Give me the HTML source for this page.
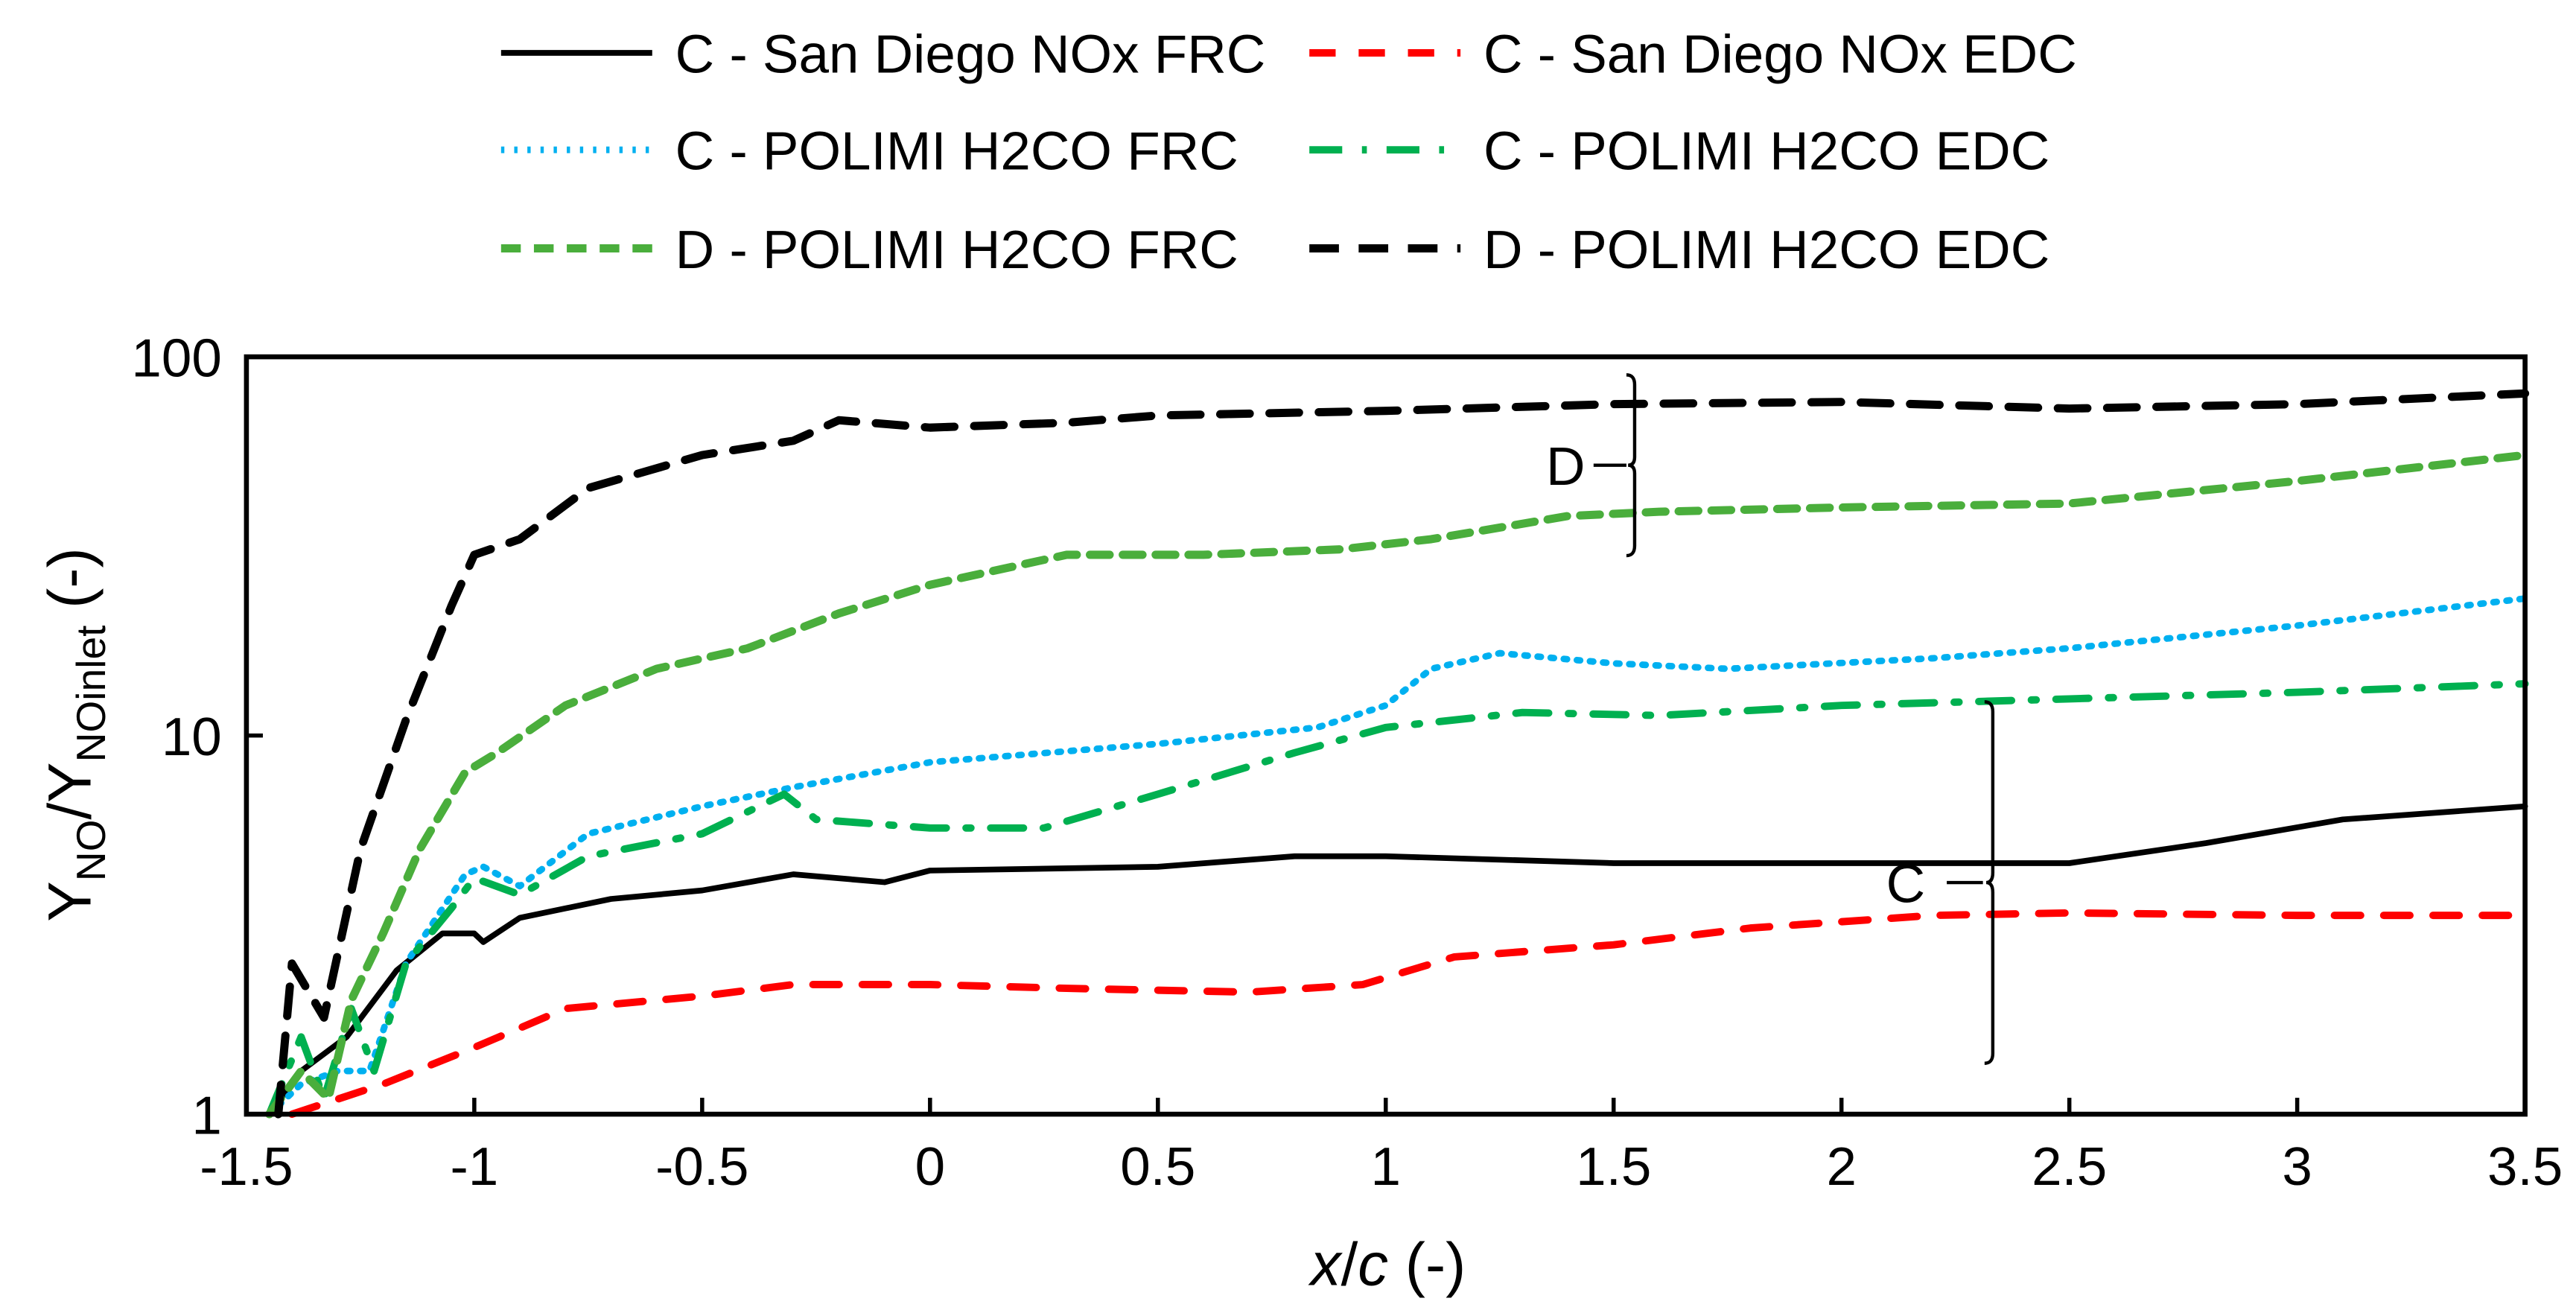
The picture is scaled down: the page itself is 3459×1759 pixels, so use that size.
<!DOCTYPE html>
<html><head><meta charset="utf-8"><style>
html,body{margin:0;padding:0;background:#fff}
svg{display:block}
text{font-family:"Liberation Sans",Arial,sans-serif;fill:#000}
</style></head><body>
<svg id="chart" width="3459" height="1759" viewBox="0 0 1568 797" xmlns="http://www.w3.org/2000/svg">
<g id="legend"></g>
<g id="plot"></g>
<g id="axes"></g>
<g>
<path d="M990,228 q5,0 5,6 v44 q0,5 -4,5 q4,0 4,5 v44 q0,6 -5,6" fill="none" stroke="#000" stroke-width="2"/>
<line x1="970" y1="283" x2="990" y2="283" stroke="#000" stroke-width="2"/>
<text x="953" y="295" font-size="33" text-anchor="middle">D</text>
</g>
<g>
<path d="M1208,427 q5,0 5,6 v98 q0,6 -4,6 q4,0 4,6 v98 q0,6 -5,6" fill="none" stroke="#000" stroke-width="2"/>
<line x1="1185" y1="537" x2="1207" y2="537" stroke="#000" stroke-width="2"/>
<text x="1160" y="549" font-size="33" text-anchor="middle">C</text>
</g>
<text x="845" y="782" font-size="37" text-anchor="middle"><tspan font-style="italic">x</tspan>/<tspan font-style="italic">c</tspan> (-)</text>
<text transform="translate(55,447) rotate(-90)" font-size="37" text-anchor="middle">Y<tspan font-size="25" dy="9">NO</tspan><tspan dy="-9">/Y</tspan><tspan font-size="25" dy="9">NOinlet</tspan><tspan dy="-9"> (-)</tspan></text>
</svg>
<script>
const xTicks=[-1.5,-1,-0.5,0,0.5,1,1.5,2,2.5,3,3.5];
const xTickLabels=["-1.5","-1","-0.5","0","0.5","1","1.5","2","2.5","3","3.5"];
const yTicks=[1,10,100];
const yTickLabels=["1","10","100"];
const seriesNames=["C - San Diego NOx FRC","C - San Diego NOx EDC","C - POLIMI H2CO FRC","C - POLIMI H2CO EDC","D - POLIMI H2CO FRC","D - POLIMI H2CO EDC"];
const sdFrcX=[-1.45,-1.38,-1.28,-1.17,-1.07,-1.0,-0.98,-0.9,-0.7,-0.5,-0.3,-0.1,0,0.5,0.8,1.0,1.5,2,2.5,2.8,3.1,3.5];
const sdFrcY=[1,1.3,1.6,2.4,3,3,2.85,3.3,3.7,3.9,4.3,4.1,4.4,4.5,4.8,4.8,4.6,4.6,4.6,5.2,6,6.5];
const sdEdcX=[-1.4,-1.2,-1.0,-0.8,-0.5,-0.3,0,0.3,0.7,0.95,1.15,1.5,1.8,2.2,2.5,3,3.5];
const sdEdcY=[1,1.2,1.5,1.9,2.05,2.2,2.2,2.15,2.1,2.2,2.6,2.8,3.1,3.35,3.4,3.35,3.35];
const pcFrcX=[-1.45,-1.38,-1.3,-1.23,-1.15,-1.02,-0.98,-0.9,-0.75,-0.5,-0.3,0,0.5,0.85,1.0,1.1,1.25,1.5,1.75,2.2,2.5,3,3.5];
const pcFrcY=[1,1.2,1.3,1.3,2.5,4.3,4.5,4,5.5,6.5,7.3,8.5,9.5,10.5,12,15,16.5,15.5,15,16,17,19.5,23];
const pcEdcX=[-1.45,-1.38,-1.33,-1.27,-1.22,-1.15,-1.05,-1.0,-0.9,-0.75,-0.5,-0.32,-0.25,0,0.25,0.5,0.8,1.0,1.3,1.6,2,2.5,3,3.5];
const pcEdcY=[1,1.6,1.1,1.9,1.3,2.5,3.5,4.2,3.8,4.8,5.5,7,6,5.7,5.7,7,9,10.5,11.5,11.3,12,12.5,13,13.7];
const pdFrcX=[-1.45,-1.38,-1.32,-1.27,-1.2,-1.12,-1.02,-0.95,-0.8,-0.6,-0.4,-0.2,0,0.3,0.6,0.9,1.1,1.4,1.6,2,2.5,3,3.5];
const pdFrcY=[1,1.3,1.1,2,3,5,8,9,12,15,17,21,25,30,30,31,33,38,39,40,41,47,55];
const pdEdcX=[-1.43,-1.4,-1.33,-1.25,-1.15,-1.05,-1.0,-0.9,-0.75,-0.5,-0.3,-0.2,0,0.3,0.5,1,1.5,2,2.5,3,3.5];
const pdEdcY=[1,2.5,1.8,5,11,22,30,33,45,55,60,68,65,67,70,72,75,76,73,75,80];

const NS="http://www.w3.org/2000/svg";
const L=150,R=1537,T=217,B=678;
const xs=v=>L+(v+1.5)/5*(R-L);
const ys=v=>B-Math.log10(v)/2*(B-T);
function mk(tag,attrs,parent){const e=document.createElementNS(NS,tag);for(const k in attrs)e.setAttribute(k,attrs[k]);parent.appendChild(e);return e;}
const styles=[
 {stroke:"#000",w:3.5,dash:""},
 {stroke:"#ff0000",w:4.5,dash:"16 14"},
 {stroke:"#00b0f0",w:4,dash:"2 6"},
 {stroke:"#00b050",w:4.5,dash:"20 12 3 12"},
 {stroke:"#4aae3c",w:5,dash:"12 8"},
 {stroke:"#000",w:5,dash:"18 12"}];
const data=[[sdFrcX,sdFrcY],[sdEdcX,sdEdcY],[pcFrcX,pcFrcY],[pcEdcX,pcEdcY],[pdFrcX,pdFrcY],[pdEdcX,pdEdcY]];
const seriesKeys=["series-sd-nox-frc","series-sd-nox-edc","series-c-polimi-frc","series-c-polimi-edc","series-d-polimi-frc","series-d-polimi-edc"];
const plot=document.getElementById('plot');
data.forEach((d,i)=>{
 const pts=d[0].map((x,j)=>xs(x).toFixed(1)+","+ys(d[1][j]).toFixed(1)).join(" ");
 const p=mk('polyline',{points:pts,fill:"none",stroke:styles[i].stroke,"stroke-width":styles[i].w,"stroke-dasharray":styles[i].dash,"stroke-linejoin":"round","stroke-linecap":"round"},plot);
 
 
});
const axes=document.getElementById('axes');
const frame=mk('rect',{x:L,y:T,width:R-L,height:B-T,fill:"none",stroke:"#000","stroke-width":3},axes);


xTicks.forEach((v,i)=>{
 const t=mk('line',{x1:xs(v),x2:xs(v),y1:B,y2:B-10,stroke:"#000","stroke-width":2.5},axes);
 
 
 const lb=mk('text',{x:xs(v),y:B+43,"font-size":33,"text-anchor":"middle"},axes);
 lb.textContent=xTickLabels[i];
 
 
});
yTicks.forEach((v,i)=>{
 const t=mk('line',{x1:L,x2:L+10,y1:ys(v),y2:ys(v),stroke:"#000","stroke-width":2.5},axes);
 
 
 const lb=mk('text',{x:135,y:ys(v)+12,"font-size":33,"text-anchor":"end"},axes);
 lb.textContent=yTickLabels[i];
 
 
});
const legend=document.getElementById('legend');
const legX=[305,797],legY=[32,91,151];
seriesNames.forEach((n,i)=>{
 const cx=legX[i%2],cy=legY[Math.floor(i/2)];
 const g=mk('g',{},legend);
 
 
 mk('line',{x1:cx,x2:cx+92,y1:cy,y2:cy,stroke:styles[i].stroke,"stroke-width":styles[i].w,"stroke-dasharray":styles[i].dash},g);
 const tx=mk('text',{x:cx+106,y:cy+12,"font-size":33},g);
 tx.textContent=n;
});
</script>
</body></html>
